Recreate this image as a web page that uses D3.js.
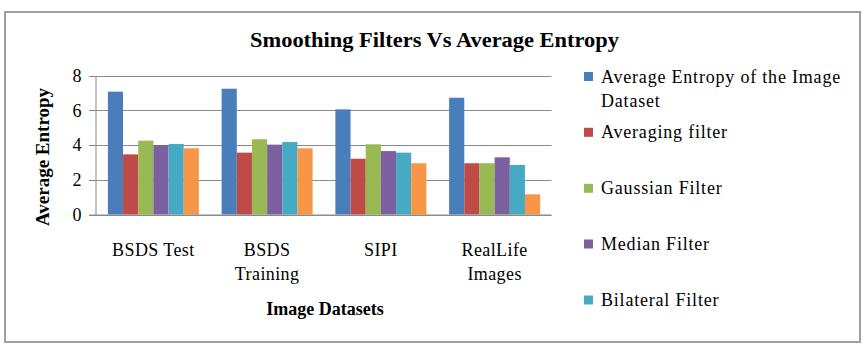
<!DOCTYPE html>
<html>
<head>
<meta charset="utf-8">
<script src="https://cdn.jsdelivr.net/npm/d3@7"></script>
<style>
  html, body { margin: 0; padding: 0; background: #fff; }
  svg { display: block; font-family: "Liberation Serif", "Times New Roman", serif; }
</style>
</head>
<body>
<div id="chart"></div>
<script>
const categories = [["BSDS Test"], ["BSDS", "Training"], ["SIPI"], ["RealLife", "Images"]];
const seriesNames = [
  "Average Entropy of the Image Dataset",
  "Averaging filter",
  "Gaussian Filter",
  "Median Filter",
  "Bilateral Filter",
  "Sixth filter"
];
const seriesColors = ["#4A7EBB", "#BE4B48", "#98B954", "#7D60A0", "#46AAC5", "#F79646"];
const avgEntropy = [7.07, 7.24, 6.05, 6.72];
const averaging  = [3.46, 3.56, 3.21, 2.95];
const gaussian   = [4.25, 4.33, 4.04, 2.95];
const median     = [4.00, 4.02, 3.65, 3.29];
const bilateral  = [4.06, 4.17, 3.56, 2.85];
const sixth      = [3.81, 3.81, 2.95, 1.16];
const yTicks = [0, 2, 4, 6, 8];
const visibleLegend = 5;

const seriesValues = [avgEntropy, averaging, gaussian, median, bilateral, sixth];

const W = 867, H = 354;
const svg = d3.select("#chart").append("svg").attr("width", W).attr("height", H);

// outer frame
svg.append("rect").attr("x", 5).attr("y", 12).attr("width", 855).attr("height", 330)
  .attr("fill", "#fff").attr("stroke", "#a0a0a0").attr("stroke-width", 2);

// title
svg.append("text").attr("x", 434.5).attr("y", 47).attr("text-anchor", "middle")
  .attr("font-weight", "bold").attr("font-size", 22)
  .attr("textLength", 369).attr("lengthAdjust", "spacingAndGlyphs")
  .text("Smoothing Filters Vs Average Entropy");

const plotL = 95.5, plotR = 551.5, plotT = 75.5, plotB = 214.5;
const x0 = d3.scaleBand().domain(d3.range(categories.length)).range([plotL + 1, plotR]).paddingInner(0.2).paddingOuter(0.1);
const x1 = d3.scaleBand().domain(d3.range(seriesNames.length)).range([0, x0.bandwidth()]);
const y = d3.scaleLinear().domain([0, 8]).range([plotB, plotT]);

// gridlines
svg.append("g").selectAll("line").data(yTicks).join("line")
  .attr("x1", plotL - 6.5).attr("x2", plotR)
  .attr("y1", d => Math.round(y(d)) + 0.5).attr("y2", d => Math.round(y(d)) + 0.5)
  .attr("stroke", "#8a8a8a").attr("stroke-width", 1);

// bars
const groups = svg.append("g").selectAll("g").data(categories).join("g")
  .attr("transform", (d, i) => `translate(${x0(i)},0)`);
groups.selectAll("rect").data((d, i) => seriesValues.map((s, k) => ({k, v: s[i]}))).join("rect")
  .attr("x", d => x1(d.k)).attr("width", x1.bandwidth())
  .attr("y", d => y(d.v)).attr("height", d => plotB - y(d.v))
  .attr("fill", d => seriesColors[d.k]);

// y axis
const yAxis = d3.axisLeft(y).tickValues(yTicks).tickSize(0).tickPadding(14);
const gy = svg.append("g").attr("transform", `translate(${plotL},0)`).call(yAxis);
gy.select(".domain").attr("stroke", "#8a8a8a");
gy.selectAll("text").attr("font-family", "Liberation Serif, serif").attr("font-size", 18).attr("fill", "#000");

// x axis baseline
svg.append("line").attr("x1", plotL - 6.5).attr("x2", plotR).attr("y1", plotB + 0.5).attr("y2", plotB + 0.5)
  .attr("stroke", "#8a8a8a");

// category labels
const catG = svg.append("g").selectAll("text").data(categories).join("text")
  .attr("text-anchor", "middle").attr("font-size", 18).attr("letter-spacing", 0.4)
  .attr("x", (d, i) => x0(i) + x0.bandwidth() / 2).attr("y", 256);
catG.selectAll("tspan").data(d => d).join("tspan")
  .attr("x", function() { return d3.select(this.parentNode).attr("x"); })
  .attr("dy", (d, j) => j === 0 ? 0 : 24).text(d => d);

// axis titles
svg.append("text").attr("x", 325).attr("y", 315).attr("text-anchor", "middle")
  .attr("font-weight", "bold").attr("font-size", 18).text("Image Datasets");
svg.append("text").attr("transform", "translate(49,157) rotate(-90)").attr("text-anchor", "middle")
  .attr("font-weight", "bold").attr("font-size", 19).text("Average Entropy");

// legend
const legendRows = [
  {k: 0, lines: ["Average Entropy of the Image", "Dataset"], cy: 76.5},
  {k: 1, lines: ["Averaging filter"], cy: 132.3},
  {k: 2, lines: ["Gaussian Filter"], cy: 188.3},
  {k: 3, lines: ["Median Filter"], cy: 244},
  {k: 4, lines: ["Bilateral Filter"], cy: 300}
].slice(0, visibleLegend);
const lg = svg.append("g").selectAll("g").data(legendRows).join("g");
lg.append("rect").attr("x", 584).attr("y", d => d.cy - 4.5).attr("width", 9).attr("height", 9)
  .attr("fill", d => seriesColors[d.k]);
const lt = lg.append("text").attr("x", 601).attr("y", d => d.cy + 6)
  .attr("font-size", 18).attr("letter-spacing", 0.8);
lt.selectAll("tspan").data(d => d.lines).join("tspan").attr("x", 601)
  .attr("dy", (d, j) => j === 0 ? 0 : 24).text(d => d);
</script>
</body>
</html>
